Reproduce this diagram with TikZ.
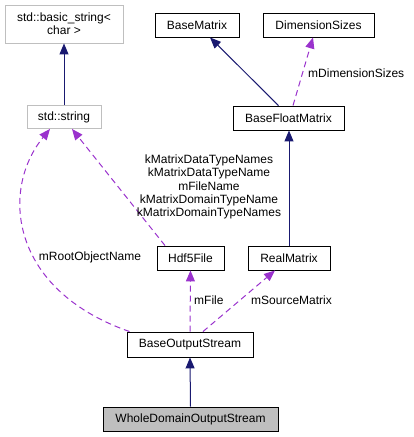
\documentclass[tikz,border=0pt]{standalone}
\usepackage{fontspec}
\setmainfont{Liberation Sans}
\usetikzlibrary{arrows.meta,calc}
\definecolor{navy}{HTML}{191970}
\definecolor{purp}{HTML}{9A32CD}
\definecolor{gbox}{HTML}{BFBFBF}
\tikzset{
  cls/.style={draw=black,line width=0.9pt,inner sep=0pt,minimum height=24pt,font=\fontsize{12}{13.3}\selectfont,align=center},
  ext/.style={cls,draw=gbox},
  inh/.style={draw=navy,line width=1pt,-{Triangle[length=11pt,width=9pt]}},
  use/.style={draw=purp,line width=1pt,dash pattern=on 6pt off 4pt,-{Triangle[length=11pt,width=9pt]}},
  lbl/.style={font=\fontsize{12}{13.3}\selectfont,inner sep=0pt,align=center}
}
\begin{document}
\begin{tikzpicture}[x=1pt,y=-1pt]
\useasboundingbox (0,0) rectangle (413,437);
\node[ext,minimum width=118pt,minimum height=38pt] (bs) at (64,24) {std::basic\_string<\\char >};
\node[ext,minimum width=74pt,minimum height=23pt] (ss) at (64,117) {std::string};
\node[cls,minimum width=84pt] (bm) at (197,25) {BaseMatrix};
\node[cls,minimum width=111pt] (ds) at (318.5,25) {DimensionSizes};
\node[cls,minimum width=111pt] (bfm) at (288.5,118) {BaseFloatMatrix};
\node[cls,minimum width=67pt] (hdf) at (190.5,258) {Hdf5File};
\node[cls,minimum width=82pt] (rm) at (289,258) {RealMatrix};
\node[cls,minimum width=126pt,minimum height=25pt] (bos) at (190,344.5) {BaseOutputStream};
\node[cls,fill=gbox,minimum width=175pt] (wd) at (190.5,419) {WholeDomainOutputStream};

\draw[inh] (ss.north) -- (bs.south);
\draw[inh] ($(bfm.north)+(-10,0)$) -- ($(bm.south)+(13,0)$);
\draw[use] ($(bfm.north)+(4.5,0)$) -- ($(ds.south)+(-5.5,0)$);
\node[lbl,anchor=west] (l1) at (308,73) {mDimensionSizes};
\draw[inh] (rm.north) -- (rm.north |- bfm.south);
\draw[use] ($(hdf.north)+(-25.5,0)$) -- ($(ss.south)+(8,0)$);
\node[lbl] (l2) at (209,187) {kMatrixDataTypeNames\\kMatrixDataTypeName\\mFileName\\kMatrixDomainTypeName\\kMatrixDomainTypeNames};
\draw[use] ($(bos.north west)+(3,0)$) .. controls (10,290) and (0,190) .. ($(ss.south)+(-14,0)$);
\node[lbl] (l3) at (90,257) {mRootObjectName};
\draw[use] (bos.north) -- (hdf.south);
\node[lbl,anchor=west] (l4) at (194,300) {mFile};
\draw[use] ($(bos.north)+(13,0)$) -- ($(rm.south)+(-14,0)$);
\node[lbl,anchor=west] (l5) at (251,300) {mSourceMatrix};
\draw[inh] (wd.north) -- (bos.south);
\end{tikzpicture}
\end{document}
